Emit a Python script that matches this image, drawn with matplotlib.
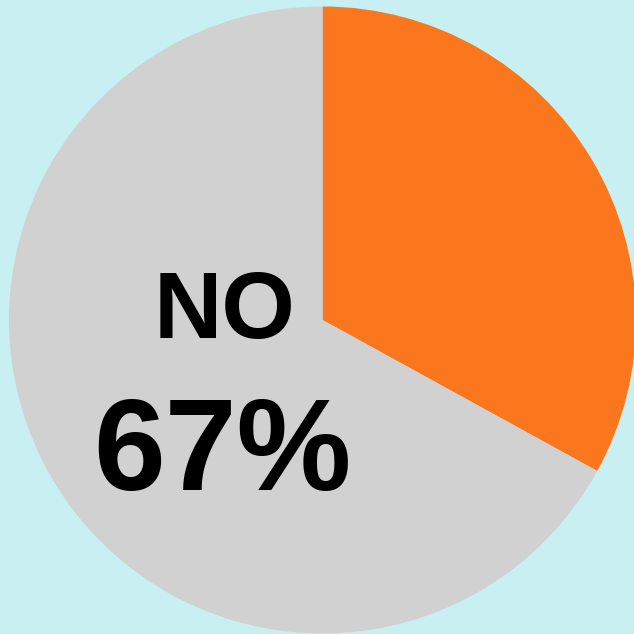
import matplotlib
matplotlib.use("Agg")
import matplotlib.pyplot as plt

# Poll result shares
labels = ["YES", "NO"]
shares = [33, 67]
colors = ["#FA771E", "#D1D1D1"]
background = "#C8EFF2"

W = H = 634
fig = plt.figure(figsize=(W / 100, H / 100), dpi=100)
fig.patch.set_facecolor(background)
ax = fig.add_axes([0, 0, 1, 1])
ax.set_facecolor(background)
ax.set_xlim(0, W)
ax.set_ylim(0, H)
ax.set_aspect("equal")
ax.axis("off")

ax.pie(shares, colors=colors, startangle=90, counterclock=False,
       center=(322.5, H - 320), radius=313.5,
       wedgeprops=dict(linewidth=0))
ax.set_xlim(0, W)
ax.set_ylim(0, H)

font = ["Liberation Sans", "DejaVu Sans"]
ax.text(224.5, H - 338, labels[1], ha="center", va="baseline",
        fontsize=68, fontweight="bold", family=font, color="black")
ax.text(222.5, H - 490, f"{shares[1]}%", ha="center", va="baseline",
        fontsize=93, fontweight="bold", family=font, color="black")

fig.savefig("out.png", dpi=100, facecolor=background)
